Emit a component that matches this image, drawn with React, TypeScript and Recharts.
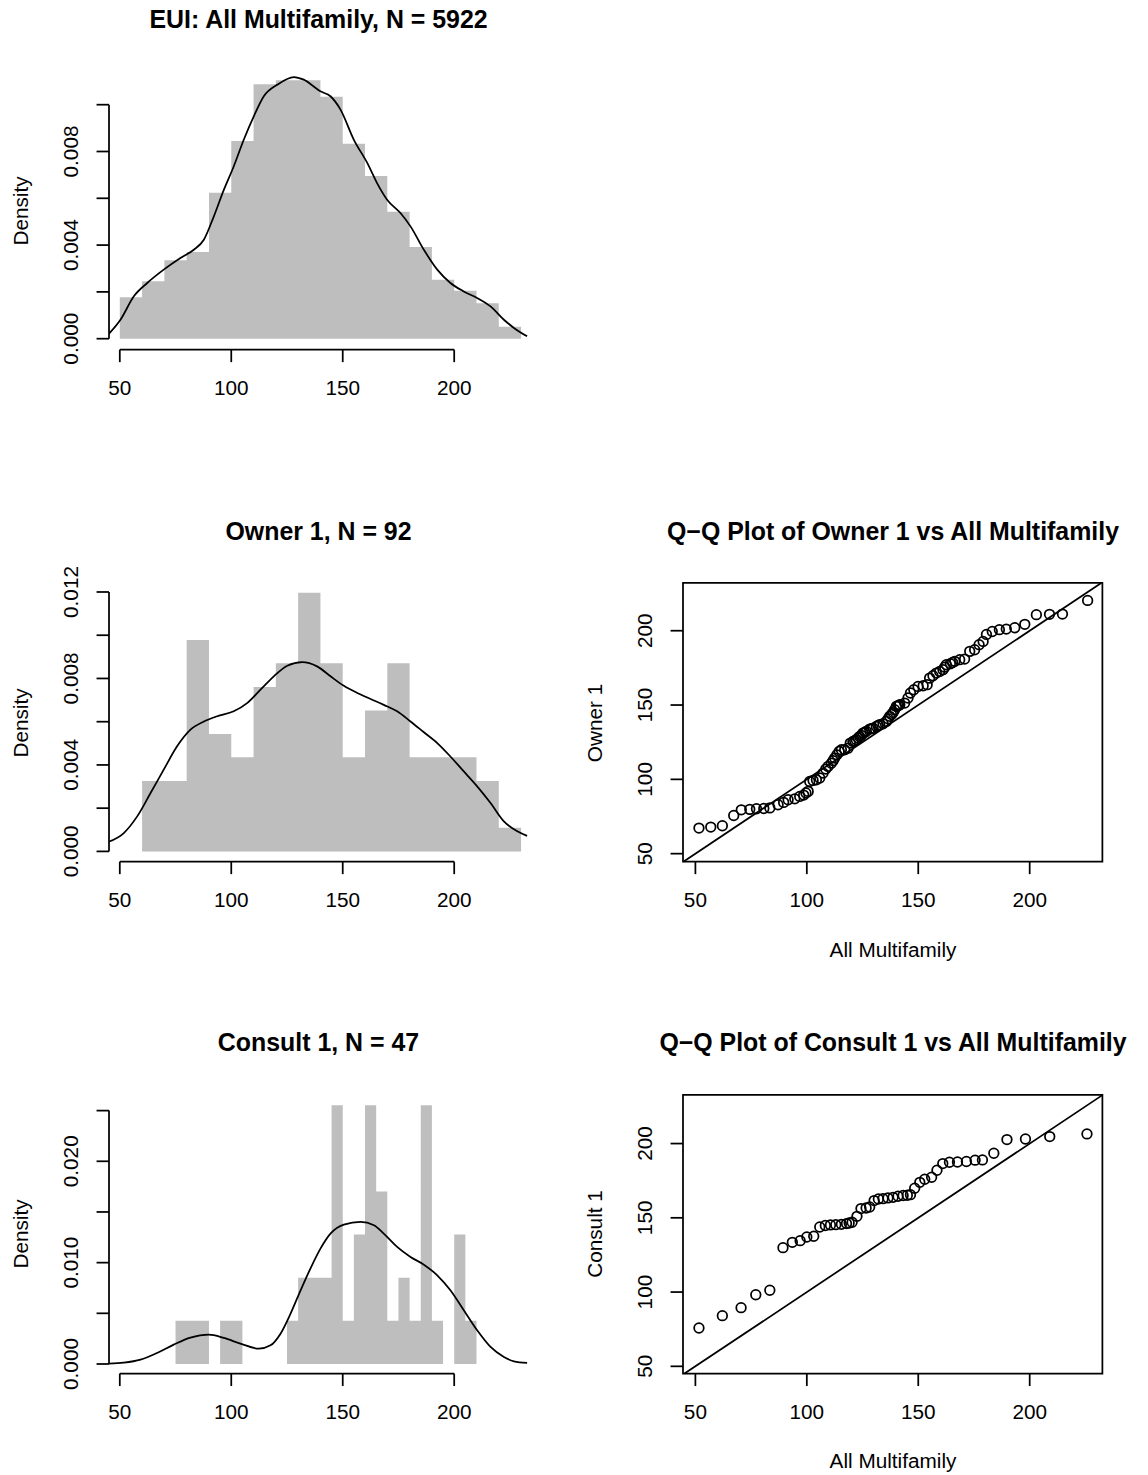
import React from "react";
import {
  Area,
  ComposedChart,
  Line,
  ReferenceArea,
  ReferenceLine,
  Scatter,
  ScatterChart,
  XAxis,
  YAxis,
} from "recharts";

const FONT = '"Liberation Sans", Arial, Helvetica, sans-serif';
const LWD = 1.75;
const AXIS_FS = 20.75;
const TITLE_FS = 24.9;
const BAR_GRAY = "#BEBEBE";
const TICK = 12.45;
const LABEL_GAP = 38;

// shared x ticks
const xTicks = [50, 100, 150, 200];

// EUI: all multifamily histogram (bin edges + density per bin)
const allEdges = [50, 60, 70, 80, 90, 100, 110, 120, 130, 140, 150, 160, 170, 180, 190, 200, 210, 220, 230];
const allDensity = [
  0.00177, 0.00245, 0.00335, 0.0037, 0.00624, 0.00845, 0.01087, 0.01104, 0.01104,
  0.01034, 0.00833, 0.00695, 0.00543, 0.00392, 0.00252, 0.00205, 0.00151, 0.00051,
];
const allCurveX = [
  44.3, 50.3, 56.3, 62.3, 69.7, 77.2, 83.2, 87.7, 92.2, 96.7, 101.1, 105.6, 110.1, 114.6,
  120.6, 128.1, 132.5, 140.0, 144.5, 149.0, 155.0, 161.0, 165.4, 169.9, 175.9, 180.4,
  186.4, 192.4, 198.3, 204.3, 210.3, 216.3, 222.3, 226.8, 232.7,
];
const allCurveY = [
  0.00013, 0.00081, 0.00181, 0.00238, 0.00295, 0.00345, 0.0038, 0.00423, 0.00523, 0.00637,
  0.00736, 0.0085, 0.0095, 0.01036, 0.01085, 0.01118, 0.01107, 0.01057, 0.01036, 0.00979,
  0.0085, 0.00751, 0.00665, 0.00594, 0.00537, 0.0048, 0.0038, 0.00295, 0.00238, 0.00202,
  0.00174, 0.00138, 0.00081, 0.00046, 0.0001,
];
const allYTicks = [0, 0.002, 0.004, 0.006, 0.008, 0.01];
const allYLabels = [0, 0.004, 0.008];

// Owner 1 histogram
const ownerEdges = [60, 70, 80, 90, 100, 110, 120, 130, 140, 150, 160, 170, 180, 190, 200, 210, 220, 230];
const ownerDensity = [
  0.00326, 0.00326, 0.00978, 0.00543, 0.00435, 0.00761, 0.0087, 0.01196, 0.0087,
  0.00435, 0.00652, 0.0087, 0.00435, 0.00435, 0.00435, 0.00326, 0.00109,
];
const ownerCurveX = [
  44.3, 51.8, 57.8, 63.8, 69.7, 75.7, 81.7, 87.7, 93.7, 101.1, 107.1, 113.1, 119.1, 125.1,
  131.8, 138.5, 144.5, 150.5, 156.5, 162.5, 168.4, 174.4, 180.4, 186.4, 192.4, 198.3,
  204.3, 210.3, 216.3, 222.3, 228.3, 232.7,
];
const ownerCurveY = [
  0.00042, 0.00085, 0.00162, 0.0027, 0.00378, 0.00486, 0.00563, 0.00601, 0.00625, 0.00648,
  0.00686, 0.00748, 0.0081, 0.00859, 0.00876, 0.00856, 0.0081, 0.00766, 0.00733, 0.00705,
  0.00678, 0.00648, 0.00601, 0.00551, 0.00501, 0.00439, 0.0037, 0.00301, 0.00224, 0.00139,
  0.00093, 0.00072,
];
const ownerYTicks = [0, 0.002, 0.004, 0.006, 0.008, 0.01, 0.012];
const ownerYLabels = [0, 0.004, 0.008, 0.012];

// Consult 1 histogram
const consultEdges = [
  75, 80, 85, 90, 95, 100, 105, 110, 115, 120, 125, 130, 135, 140, 145, 150, 155, 160,
  165, 170, 175, 180, 185, 190, 195, 200, 205, 210,
];
const consultDensity = [
  0.00426, 0.00426, 0.00426, 0, 0.00426, 0.00426, 0, 0, 0, 0, 0.00426, 0.00851, 0.00851,
  0.00851, 0.02553, 0.00426, 0.01277, 0.02553, 0.01702, 0.00426, 0.00851, 0.00426, 0.02553,
  0.00426, 0, 0.01277, 0.00426,
];
const consultCurveX = [
  44.3, 51.8, 59.3, 66.7, 74.2, 81.7, 89.9, 96.7, 104.1, 112.4, 117.6, 122.1, 126.6, 131.1,
  135.5, 140.0, 144.5, 150.5, 158.0, 164.0, 168.4, 174.4, 180.4, 186.4, 192.4, 198.3,
  204.3, 210.3, 216.3, 222.3, 226.8, 232.7,
];
const consultCurveY = [
  0.00003, 0.00013, 0.00043, 0.00109, 0.00191, 0.0026, 0.00289, 0.00257, 0.00201, 0.00151,
  0.00184, 0.00299, 0.00497, 0.00727, 0.00941, 0.01138, 0.01286, 0.01375, 0.01401, 0.01368,
  0.01286, 0.01155, 0.01056, 0.0098, 0.00875, 0.00727, 0.0053, 0.00332, 0.00168, 0.00069,
  0.00026, 0.0001,
];
const consultYTicks = [0, 0.005, 0.01, 0.015, 0.02, 0.025];
const consultYLabels = [0, 0.01, 0.02];

// Q-Q: Owner 1 vs All Multifamily
const ownerQQx = [
  51.6, 56.9, 62.1, 67.2, 70.6, 74.4, 77.4, 80.7, 83.4, 87.1,
  89.6, 91.6, 94.6, 96.8, 98.6, 99.6, 100.6, 101.3, 102.8, 104.3,
  105.8, 107.3, 108.5, 109.5, 111.0, 111.8, 112.5, 113.5, 114.5, 115.5,
  117.0, 118.5, 119.5, 120.7, 121.5, 122.2, 123.0, 123.7, 124.5, 125.2,
  126.0, 126.7, 128.2, 129.0, 129.7, 131.2, 132.0, 132.7, 134.2, 135.7,
  136.5, 137.2, 138.0, 138.7, 139.4, 140.2, 140.9, 141.3, 141.7, 143.9,
  145.4, 146.5, 148.0, 149.9, 152.2, 154.0, 155.1, 156.6, 158.1, 159.6,
  161.1, 161.9, 162.6, 164.4, 165.4, 166.4, 168.6, 170.8, 173.1, 175.3,
  177.3, 179.1, 180.6, 183.2, 186.4, 189.5, 193.3, 197.8, 203.0, 208.9,
  214.7, 226.0,
];
const ownerQQy = [
  67.2, 67.9, 68.8, 75.7, 79.5, 79.8, 80.2, 80.4, 80.8, 82.9,
  84.5, 86.3, 86.9, 88.5, 89.4, 90.8, 91.9, 98.6, 99.3, 99.7,
  100.9, 104.2, 106.9, 108.7, 110.9, 112.6, 114.3, 116.5, 118.8, 119.9,
  119.9, 121.0, 124.4, 125.5, 126.0, 126.6, 127.8, 128.9, 129.6, 131.1,
  131.7, 132.3, 133.8, 134.1, 134.5, 135.6, 136.2, 136.7, 137.4, 139.0,
  140.8, 142.4, 143.7, 145.0, 146.8, 149.1, 149.5, 149.8, 150.2, 151.3,
  154.7, 158.1, 160.3, 162.5, 163.0, 163.7, 168.1, 169.7, 171.5, 172.6,
  173.8, 175.5, 177.1, 177.8, 178.6, 179.4, 180.5, 180.9, 186.1, 187.2,
  190.6, 192.8, 197.5, 199.5, 200.7, 201.1, 202.0, 204.3, 210.8, 211.0,
  211.2, 220.4,
];

// Q-Q: Consult 1 vs All Multifamily
const consultQQx = [
  51.6, 62.1, 70.5, 77.1, 83.4, 89.3, 93.5, 97.0, 100.0, 103.1,
  105.8, 108.3, 110.6, 113.0, 115.5, 117.8, 119.0, 120.3, 122.5, 124.3,
  126.6, 128.2, 130.2, 132.1, 134.2, 136.4, 138.7, 140.9, 143.2, 145.1,
  146.5, 148.4, 150.7, 152.9, 156.0, 158.4, 161.0, 164.0, 167.6, 171.6,
  175.5, 178.8, 183.9, 189.8, 198.1, 209.0, 225.7,
];
const consultQQy = [
  75.8, 84.1, 89.5, 98.2, 101.2, 129.9, 133.5, 134.6, 137.1, 137.6,
  143.8, 144.8, 145.2, 145.4, 145.6, 146.1, 146.5, 147.0, 151.0, 156.2,
  156.6, 157.3, 161.6, 162.7, 162.9, 163.4, 163.8, 164.5, 165.0, 165.2,
  165.6, 169.9, 173.9, 176.0, 177.3, 182.0, 186.5, 187.4, 187.6, 187.9,
  188.8, 189.0, 193.5, 202.7, 203.1, 204.7, 206.5,
];
const qqTicks = [50, 100, 150, 200];

type Frame = {
  left: number;
  top: number;
  w: number;
  h: number;
  xDomain: [number, number];
  yDomain: [number, number];
};

const AX_W = 60;
const AX_H = 60;
const PAD_T = 40;
const PAD_R = 12;

const histX: [number, number] = [45.16, 233.55];
const qqX: [number, number] = [44.44, 232.62];

const allFrame: Frame = { left: 108.5, top: 71.3, w: 420, h: 278.7, xDomain: histX, yDomain: [-0.00047, 0.01144] };
const ownerFrame: Frame = { left: 108.5, top: 583.3, w: 420, h: 278.7, xDomain: histX, yDomain: [-0.000476, 0.012416] };
const consultFrame: Frame = { left: 108.5, top: 1094.7, w: 420, h: 278.6, xDomain: histX, yDomain: [-0.000947, 0.02654] };
const ownerQQFrame: Frame = { left: 683.3, top: 583.3, w: 419.4, h: 278.7, xDomain: qqX, yDomain: [44.6, 232.1] };
const consultQQFrame: Frame = { left: 683.3, top: 1094.7, w: 419.4, h: 278.6, xDomain: qqX, yDomain: [45.1, 232.7] };

// title sits the same distance above every plot region
const TITLE_GAP = 52.5;

const tickLineStyle = { stroke: "#000", strokeWidth: LWD };

function XTick(props: any) {
  const { x, y, payload } = props;
  return (
    <text x={x} y={y} dy="0.36em" textAnchor="middle" fontSize={AXIS_FS} fontFamily={FONT} fill="#000">
      {payload.value}
    </text>
  );
}

function makeYTick(labels: number[], fmt: (v: number) => string) {
  return (props: any) => {
    const { x, y, payload } = props;
    const v = payload.value as number;
    if (!labels.some((l) => Math.abs(l - v) < 1e-9)) return <g />;
    return (
      <text
        x={x}
        y={y}
        dy="0.36em"
        textAnchor="middle"
        transform={`rotate(-90, ${x}, ${y})`}
        fontSize={AXIS_FS}
        fontFamily={FONT}
        fill="#000"
      >
        {fmt(v)}
      </text>
    );
  };
}

function Ring(props: any) {
  return <circle cx={props.cx} cy={props.cy} r={4.8} fill="none" stroke="#000" strokeWidth={LWD} />;
}

type HistProps = {
  frame: Frame;
  edges: number[];
  density: number[];
  curveX: number[];
  curveY: number[];
  yTicks: number[];
  yLabels: number[];
};

function HistPanel({ frame, edges, density, curveX, curveY, yTicks, yLabels }: HistProps) {
  // last edge repeats the last bin height so the step closes the final bar
  const bars = edges.map((x, i) => ({ x, d: density[Math.min(i, density.length - 1)] }));
  const curve = curveX.map((x, i) => ({ x, d: curveY[i] }));
  const x0 = frame.xDomain[0];
  const y0 = frame.yDomain[0];
  return (
    <div style={{ position: "absolute", left: frame.left - AX_W, top: frame.top - PAD_T }}>
      <ComposedChart
        width={AX_W + frame.w + PAD_R}
        height={PAD_T + frame.h + AX_H}
        margin={{ top: PAD_T, right: PAD_R, bottom: 0, left: 0 }}
      >
        <XAxis
          type="number"
          dataKey="x"
          domain={frame.xDomain}
          allowDataOverflow
          ticks={xTicks}
          interval={0}
          axisLine={false}
          tickLine={tickLineStyle}
          tickSize={TICK}
          tickMargin={LABEL_GAP - TICK}
          height={AX_H}
          tick={XTick}
        />
        <YAxis
          type="number"
          domain={frame.yDomain}
          allowDataOverflow
          ticks={yTicks}
          interval={0}
          axisLine={false}
          tickLine={tickLineStyle}
          tickSize={TICK}
          tickMargin={LABEL_GAP - TICK}
          width={AX_W}
          tick={makeYTick(yLabels, (v) => v.toFixed(3))}
        />
        <Area
          data={bars}
          dataKey="d"
          type="stepAfter"
          baseValue={0}
          fill={BAR_GRAY}
          fillOpacity={1}
          stroke="none"
          isAnimationActive={false}
        />
        <Line
          data={curve}
          dataKey="d"
          type="monotone"
          stroke="#000"
          strokeWidth={LWD}
          dot={false}
          activeDot={false}
          isAnimationActive={false}
        />
        <ReferenceLine
          segment={[{ x: xTicks[0], y: y0 }, { x: xTicks[xTicks.length - 1], y: y0 }]}
          stroke="#000"
          strokeWidth={LWD}
          ifOverflow="visible"
        />
        <ReferenceLine
          segment={[{ x: x0, y: yTicks[0] }, { x: x0, y: yTicks[yTicks.length - 1] }]}
          stroke="#000"
          strokeWidth={LWD}
          ifOverflow="visible"
        />
      </ComposedChart>
    </div>
  );
}

function QQPanel({ frame, qx, qy }: { frame: Frame; qx: number[]; qy: number[] }) {
  const pts = qx.map((x, i) => ({ x, y: qy[i] }));
  const lo = Math.max(frame.xDomain[0], frame.yDomain[0]);
  const hi = Math.min(frame.xDomain[1], frame.yDomain[1]);
  return (
    <div style={{ position: "absolute", left: frame.left - AX_W, top: frame.top - PAD_T }}>
      <ScatterChart
        width={AX_W + frame.w + PAD_R}
        height={PAD_T + frame.h + AX_H}
        margin={{ top: PAD_T, right: PAD_R, bottom: 0, left: 0 }}
      >
        <XAxis
          type="number"
          dataKey="x"
          domain={frame.xDomain}
          allowDataOverflow
          ticks={qqTicks}
          interval={0}
          axisLine={false}
          tickLine={tickLineStyle}
          tickSize={TICK}
          tickMargin={LABEL_GAP - TICK}
          height={AX_H}
          tick={XTick}
        />
        <YAxis
          type="number"
          dataKey="y"
          domain={frame.yDomain}
          allowDataOverflow
          ticks={qqTicks}
          interval={0}
          axisLine={false}
          tickLine={tickLineStyle}
          tickSize={TICK}
          tickMargin={LABEL_GAP - TICK}
          width={AX_W}
          tick={makeYTick(qqTicks, (v) => String(v))}
        />
        <ReferenceLine
          segment={[{ x: lo, y: lo }, { x: hi, y: hi }]}
          stroke="#000"
          strokeWidth={LWD}
          ifOverflow="visible"
        />
        <ReferenceArea
          x1={frame.xDomain[0]}
          x2={frame.xDomain[1]}
          y1={frame.yDomain[0]}
          y2={frame.yDomain[1]}
          fill="none"
          stroke="#000"
          strokeWidth={LWD}
          ifOverflow="visible"
        />
        <Scatter data={pts} shape={Ring} isAnimationActive={false} />
      </ScatterChart>
    </div>
  );
}

function Txt({
  x,
  y,
  size = AXIS_FS,
  bold = false,
  rotate = false,
  children,
}: {
  x: number;
  y: number;
  size?: number;
  bold?: boolean;
  rotate?: boolean;
  children: React.ReactNode;
}) {
  return (
    <div
      style={{
        position: "absolute",
        left: x,
        top: y,
        transform: `translate(-50%, -50%)${rotate ? " rotate(-90deg)" : ""}`,
        fontSize: size,
        fontWeight: bold ? 700 : 400,
        fontFamily: FONT,
        lineHeight: 1,
        whiteSpace: "nowrap",
        color: "#000",
      }}
    >
      {children}
    </div>
  );
}

const midX = (f: Frame) => f.left + f.w / 2;
const midY = (f: Frame) => f.top + f.h / 2;

export default function App() {
  return (
    <div
      style={{
        position: "absolute",
        left: 0,
        top: 0,
        width: 1148,
        height: 1475,
        background: "#fff",
        overflow: "hidden",
      }}
    >
      <HistPanel
        frame={allFrame}
        edges={allEdges}
        density={allDensity}
        curveX={allCurveX}
        curveY={allCurveY}
        yTicks={allYTicks}
        yLabels={allYLabels}
      />
      <HistPanel
        frame={ownerFrame}
        edges={ownerEdges}
        density={ownerDensity}
        curveX={ownerCurveX}
        curveY={ownerCurveY}
        yTicks={ownerYTicks}
        yLabels={ownerYLabels}
      />
      <HistPanel
        frame={consultFrame}
        edges={consultEdges}
        density={consultDensity}
        curveX={consultCurveX}
        curveY={consultCurveY}
        yTicks={consultYTicks}
        yLabels={consultYLabels}
      />
      <QQPanel frame={ownerQQFrame} qx={ownerQQx} qy={ownerQQy} />
      <QQPanel frame={consultQQFrame} qx={consultQQx} qy={consultQQy} />

      <Txt x={midX(allFrame)} y={allFrame.top - TITLE_GAP} size={TITLE_FS} bold>
        EUI: All Multifamily, N = 5922
      </Txt>
      <Txt x={midX(ownerFrame)} y={ownerFrame.top - TITLE_GAP} size={TITLE_FS} bold>
        Owner 1, N = 92
      </Txt>
      <Txt x={midX(consultFrame)} y={consultFrame.top - TITLE_GAP} size={TITLE_FS} bold>
        Consult 1, N = 47
      </Txt>
      <Txt x={midX(ownerQQFrame)} y={ownerQQFrame.top - TITLE_GAP} size={TITLE_FS} bold>
        Q−Q Plot of Owner 1 vs All Multifamily
      </Txt>
      <Txt x={midX(consultQQFrame)} y={consultQQFrame.top - TITLE_GAP} size={TITLE_FS} bold>
        Q−Q Plot of Consult 1 vs All Multifamily
      </Txt>

      <Txt x={allFrame.left - 88} y={midY(allFrame)} rotate>
        Density
      </Txt>
      <Txt x={ownerFrame.left - 88} y={midY(ownerFrame)} rotate>
        Density
      </Txt>
      <Txt x={consultFrame.left - 88} y={midY(consultFrame)} rotate>
        Density
      </Txt>
      <Txt x={ownerQQFrame.left - 88} y={midY(ownerQQFrame)} rotate>
        Owner 1
      </Txt>
      <Txt x={consultQQFrame.left - 88} y={midY(consultQQFrame)} rotate>
        Consult 1
      </Txt>
      <Txt x={midX(ownerQQFrame)} y={ownerQQFrame.top + ownerQQFrame.h + 88}>
        All Multifamily
      </Txt>
      <Txt x={midX(consultQQFrame)} y={consultQQFrame.top + consultQQFrame.h + 88}>
        All Multifamily
      </Txt>
    </div>
  );
}
